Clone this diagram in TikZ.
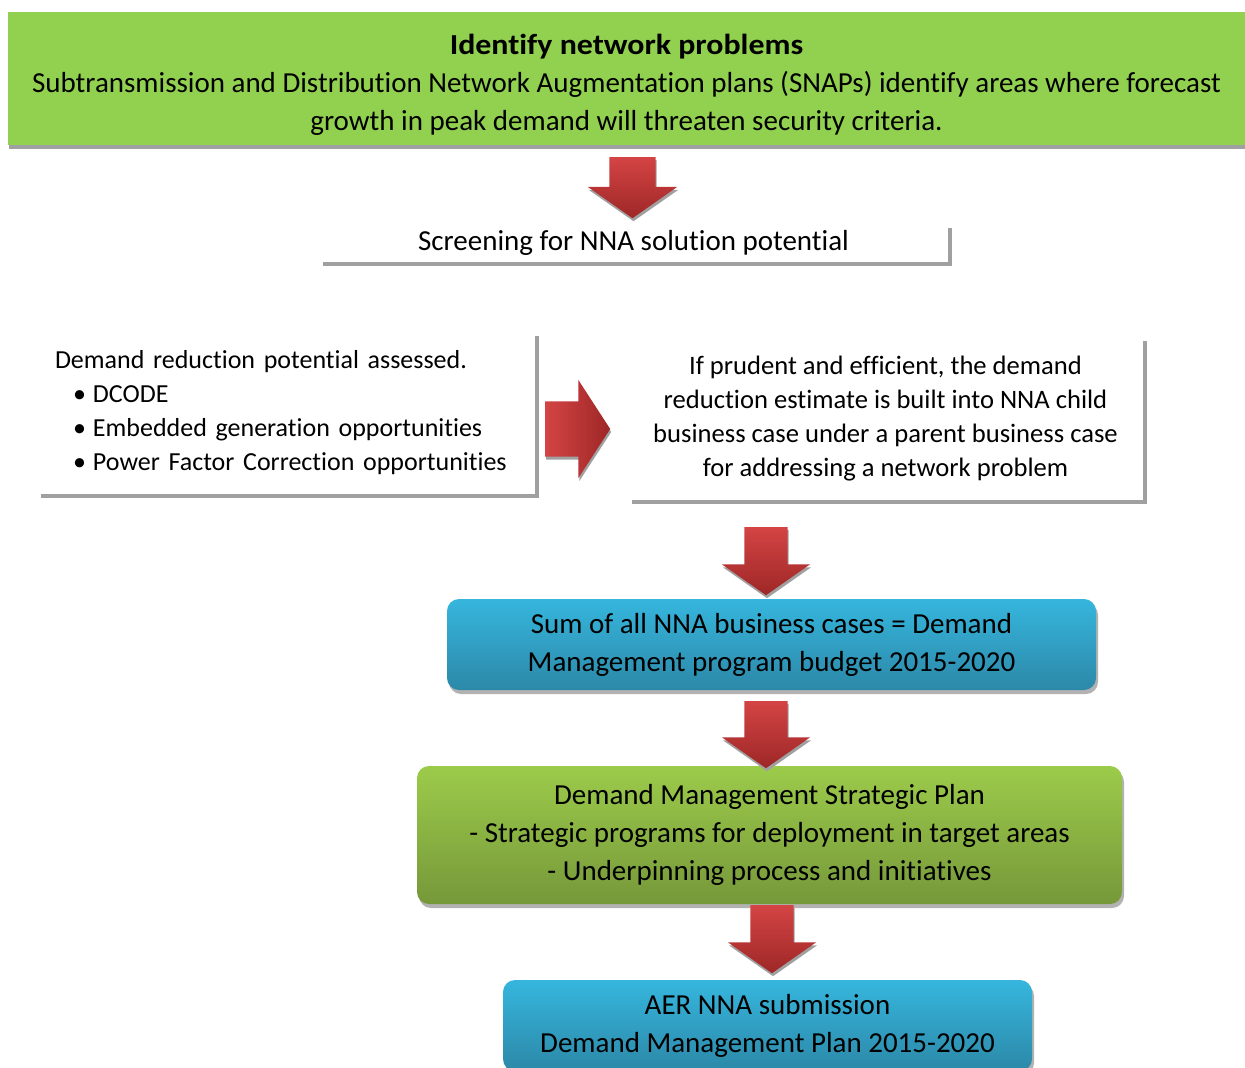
\documentclass[tikz,border=0pt]{standalone}
\usepackage{fontspec}
\setmainfont{Carlito}[Ligatures=NoCommon]
\newfontfamily\titlefont{Carlito}[Ligatures=NoCommon, FakeStretch=1.1]
\usetikzlibrary{shapes.arrows,shadows,positioning}

\definecolor{snapgreen}{HTML}{92D050}
\definecolor{arrowlight}{HTML}{D44444}
\definecolor{arrowdark}{HTML}{9E2727}
\definecolor{bluetop}{HTML}{36B6DD}
\definecolor{bluebot}{HTML}{2C88A8}
\definecolor{greentop}{HTML}{9CCB4A}
\definecolor{greenbot}{HTML}{76983A}
\definecolor{shadegray}{HTML}{A0A0A0}

\tikzset{
  txt/.style={font=\fontsize{29}{38}\selectfont},
  flatbox/.style={font=\fontsize{26}{34}\selectfont, fill=white, inner sep=0pt,
    drop shadow={shadow xshift=4pt, shadow yshift=-4pt, fill=shadegray, opacity=1}},
  roundbox/.style={txt, rounded corners=12pt, align=center, inner sep=0pt,
    drop shadow={shadow xshift=2pt, shadow yshift=-4pt, fill=black, opacity=.3}},
  bluebox/.style={roundbox, top color=bluetop, bottom color=bluebot},
  greenbox/.style={roundbox, top color=greentop, bottom color=greenbot},
  blockarrow/.style={single arrow, inner sep=0pt, inner ysep=21.5pt,
    single arrow head extend=22.5pt, single arrow tip angle=110,
    left color=arrowlight, right color=arrowdark, anchor=tail,
    drop shadow={shadow xshift=1pt, shadow yshift=-3pt, fill=shadegray, opacity=1}},
  downarrow/.style={blockarrow, rotate=-90, top color=arrowlight, bottom color=arrowdark}
}

\begin{document}
\begin{tikzpicture}[x=1pt,y=-1pt]
  \useasboundingbox (0,0) rectangle (1245,1068);

  % boxes
  \node[txt, fill=snapgreen, align=center, minimum width=1237pt, minimum height=133pt,
        drop shadow={shadow xshift=1pt, shadow yshift=-4pt, fill=shadegray, opacity=1}]
        (problems) at (626.5,78.5)
        {\rule{0pt}{33pt}{\titlefont\bfseries Identify network problems}\\
         Subtransmission and Distribution Network Augmentation plans (SNAPs) identify areas where forecast\\
         growth in peak demand will threaten security criteria.};
  \node[flatbox, txt, minimum width=629pt, minimum height=38pt] (screen) at (633.5,243)
        {Screening for NNA solution potential};
  \node[flatbox, text width=462pt, align=left, inner xsep=18pt, minimum height=162pt]
        (assess) at (286,413)
        {Demand reduction potential assessed.\\
         \hspace*{18pt}\makebox[20pt][l]{\textbullet}DCODE\\
         \hspace*{18pt}\makebox[20pt][l]{\textbullet}Embedded generation opportunities\\
         \hspace*{18pt}\makebox[20pt][l]{\textbullet}Power Factor Correction opportunities};
  \node[flatbox, font=\fontsize{26.6}{34}\selectfont, align=center, minimum width=515pt,
        minimum height=163pt] (child) at (885.5,418.5)
        {If prudent and efficient, the demand\\
         reduction estimate is built into NNA child\\
         business case under a parent business case\\
         for addressing a network problem};
  \node[bluebox, minimum width=649pt, minimum height=91pt] (budget) at (771.5,644.5)
        {Sum of all NNA business cases = Demand\\ Management program budget 2015-2020};
  \node[greenbox, minimum width=705pt, minimum height=138pt] (strategic) at (769.5,835)
        {Demand Management Strategic Plan\\
         - Strategic programs for deployment in target areas\\
         - Underpinning process and initiatives};
  \node[bluebox, minimum width=529pt, minimum height=91pt] (submission) at (767.5,1025.5)
        {AER NNA submission\\ Demand Management Plan 2015-2020};

  % arrows
  \node[downarrow, inner ysep=23pt, minimum height=61pt, single arrow head extend=21.5pt]
        (a1) at (632.5,157) {};
  \node[blockarrow, inner ysep=27.5pt, minimum height=65pt, single arrow head extend=21.5pt,
        single arrow tip angle=114] (a2) at (545,429) {};
  \node[downarrow, minimum height=68pt] (a3) at (766,527) {};
  \node[downarrow, minimum height=67pt] (a4) at (766,701) {};
  \node[downarrow, minimum height=68pt] (a5) at (772,905) {};
\end{tikzpicture}
\end{document}
